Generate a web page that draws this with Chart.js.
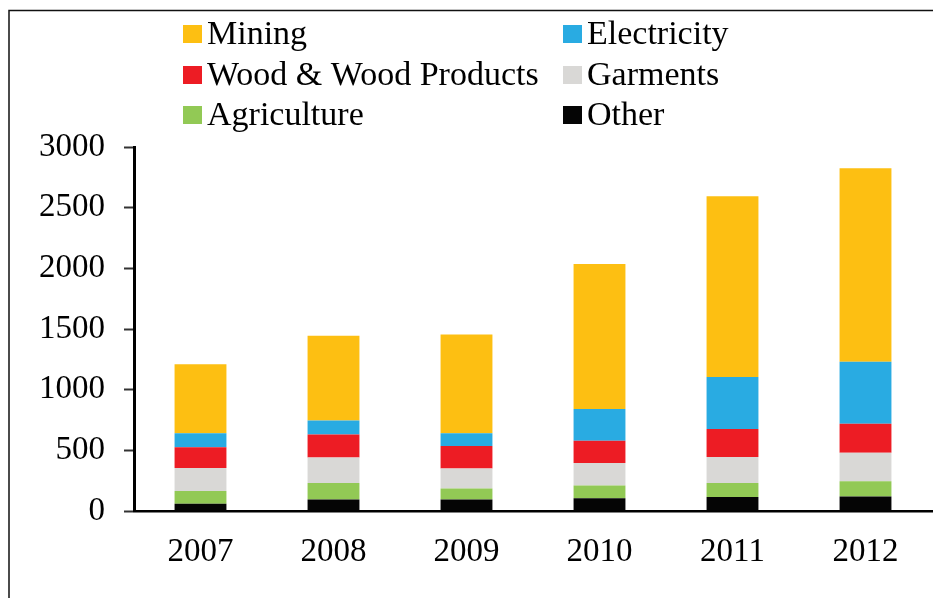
<!DOCTYPE html>
<html>
<head>
<meta charset="utf-8">
<script src="https://cdn.jsdelivr.net/npm/chart.js@4"></script>
<style>
html,body{margin:0;padding:0;background:#fff;}
#wrap{width:933px;height:598px;position:relative;}
</style>
</head>
<body>
<div id="wrap"><canvas id="c" width="933" height="598"></canvas></div>
<script>
const years = ['2007','2008','2009','2010','2011','2012'];
const yTicks = [0,500,1000,1500,2000,2500,3000];
const other = [60, 95, 95, 105, 115, 120];
const agriculture = [105, 135, 90, 105, 115, 125];
const garments = [190, 210, 165, 185, 215, 235];
const wood = [170, 190, 185, 185, 230, 240];
const electricity = [115, 115, 105, 260, 430, 510];
const mining = [570, 700, 815, 1195, 1490, 1595];

const FONT = "'Liberation Serif', 'Times New Roman', serif";

const frame = {
  id: 'frame',
  beforeDraw(chart) {
    const ctx = chart.ctx;
    ctx.save();
    ctx.fillStyle = '#fff';
    ctx.fillRect(0, 0, chart.width, chart.height);
    ctx.strokeStyle = '#111';
    ctx.lineWidth = 1.5;
    ctx.beginPath();
    ctx.moveTo(9, chart.height);
    ctx.lineTo(9, 10.5);
    ctx.lineTo(chart.width, 10.5);
    ctx.stroke();
    ctx.restore();
  }
};

const gridLegend = {
  id: 'gridLegend',
  afterDraw(chart) {
    const ctx = chart.ctx;
    const ds = chart.data.datasets.slice().reverse();
    const colX = [183, 563];
    const rowY = [34, 75, 115];
    ctx.save();
    ctx.font = '34px ' + FONT;
    ctx.textBaseline = 'middle';
    ctx.textAlign = 'left';
    ds.forEach((d, i) => {
      const cx = colX[i % 2], cy = rowY[Math.floor(i / 2)];
      ctx.fillStyle = d.backgroundColor;
      ctx.fillRect(cx, cy - 9, 19, 18);
      ctx.fillStyle = '#000';
      ctx.fillText(d.label, cx + 24, cy + 1);
    });
    ctx.restore();
  }
};

new Chart(document.getElementById('c'), {
  type: 'bar',
  data: {
    labels: years,
    datasets: [
      {label: 'Other', data: other, backgroundColor: '#050505'},
      {label: 'Agriculture', data: agriculture, backgroundColor: '#92C955'},
      {label: 'Garments', data: garments, backgroundColor: '#D9D8D6'},
      {label: 'Wood & Wood Products', data: wood, backgroundColor: '#ED1C24'},
      {label: 'Electricity', data: electricity, backgroundColor: '#29ABE2'},
      {label: 'Mining', data: mining, backgroundColor: '#FDBF12'}
    ]
  },
  options: {
    responsive: false,
    animation: false,
    devicePixelRatio: 1,
    layout: {padding: {top: 147, left: 10, right: 1, bottom: 0}},
    datasets: {bar: {barPercentage: 0.39, categoryPercentage: 1, borderWidth: 0}},
    plugins: {legend: {display: false}, tooltip: {enabled: false}, title: {display: false}},
    scales: {
      x: {
        stacked: true,
        grid: {display: false, drawTicks: false},
        border: {display: true, color: '#000', width: 2.5},
        ticks: {color: '#000', font: {family: FONT, size: 33}, padding: 22, maxRotation: 0},
        afterFit(s) { s.height = 87; }
      },
      y: {
        stacked: true,
        min: 0, max: 3000,
        afterBuildTicks(s) { s.ticks = yTicks.map(v => ({value: v})); },
        grid: {drawOnChartArea: false, drawTicks: true, tickLength: 10, tickColor: '#333', tickWidth: 2},
        border: {display: true, color: '#000', width: 3},
        ticks: {color: '#000', font: {family: FONT, size: 33}, padding: 19, callback: v => String(v)},
        afterFit(s) { s.width = 124; }
      }
    }
  },
  plugins: [frame, gridLegend]
});
</script>
</body>
</html>
